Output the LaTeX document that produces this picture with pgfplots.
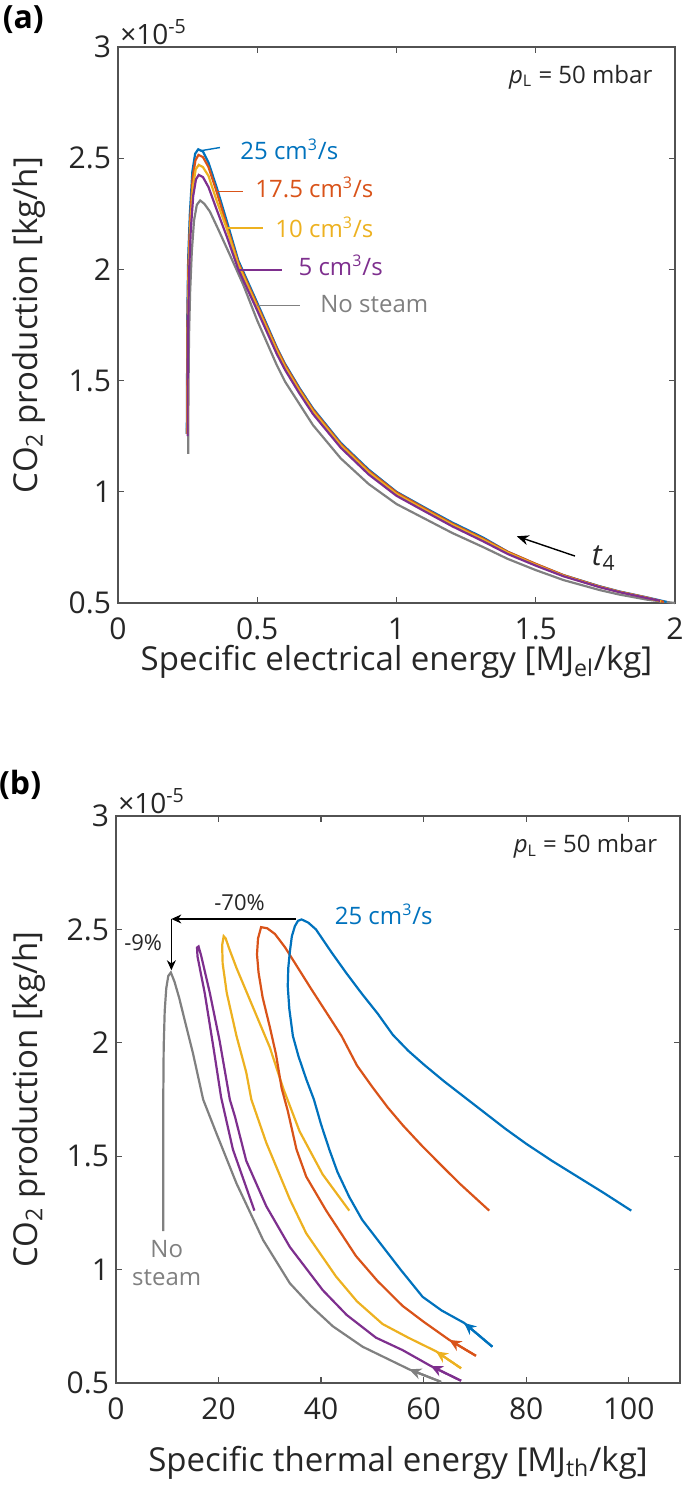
\documentclass[border=0pt]{standalone}
\usepackage{fontspec}
\setmainfont{Open Sans}
\usepackage{pgfplots}
\pgfplotsset{compat=1.18}
\usetikzlibrary{arrows.meta}
\definecolor{mblue}{rgb}{0,0.447,0.741}
\definecolor{morange}{rgb}{0.851,0.325,0.098}
\definecolor{myellow}{rgb}{0.929,0.694,0.125}
\definecolor{mpurple}{rgb}{0.494,0.184,0.556}
\definecolor{mgray}{rgb}{0.5,0.5,0.5}
\definecolor{axc}{rgb}{0.15,0.15,0.15}
\pgfplotsset{myax/.style={
  scale only axis, anchor=south west, clip=false,
  axis line style={axc!80, line width=0.6pt},
  tick style={axc!80, line width=0.6pt},
  tick align=inside, major tick length=3pt,
  every tick label/.append style={font=\fontsize{15}{17}\selectfont, text=axc},
  xticklabel style={yshift=-4pt},
  label style={font=\fontsize{16.5}{19}\selectfont, text=axc},
  /pgf/number format/assume math mode=true,
  scaled y ticks=false, scaled x ticks=false,
  ymin=0.5, ymax=3, ytick={0.5,1,1.5,2,2.5,3},
  ylabel={CO\textsubscript{2} production [kg/h]},
  every axis plot/.append style={line width=1.1pt},
}}
\begin{document}
\begin{tikzpicture}
\useasboundingbox (0,0) rectangle (342.5pt,-749pt);
% ---------------- (a) ----------------
\begin{axis}[myax, at={(59pt,-301.5pt)}, width=278.5pt, height=278pt,
  xmin=0, xmax=2, xtick={0,0.5,1,1.5,2},
  xlabel={Specific electrical energy [MJ\textsubscript{el}/kg]},
  xlabel style={at={(axis description cs:0.5,-0.106)}, anchor=center},
  ylabel style={at={(axis description cs:-0.16,0.5)}, anchor=center}]
\addplot[mgray] coordinates {(2.0,0.50)(1.9,0.515)(1.8,0.538)(1.73,0.558)(1.6,0.603)(1.5,0.648)(1.4,0.698)(1.31,0.752)(1.2,0.815)(1.1,0.88)(1.0,0.945)(0.9,1.035)(0.8,1.15)(0.7,1.30)(0.6,1.495)(0.57,1.57)(0.5,1.77)(0.45,1.93)(0.4,2.07)(0.36,2.18)(0.33,2.26)(0.31,2.295)(0.295,2.31)(0.283,2.29)(0.273,2.22)(0.265,2.08)(0.259,1.9)(0.255,1.7)(0.253,1.45)(0.252,1.17)};
\addplot[mblue] coordinates {(1.97,0.505)(1.9,0.525)(1.8,0.552)(1.73,0.575)(1.6,0.625)(1.5,0.675)(1.4,0.73)(1.31,0.795)(1.2,0.862)(1.1,0.93)(1.0,1.00)(0.9,1.10)(0.8,1.22)(0.7,1.375)(0.65,1.47)(0.6,1.575)(0.57,1.65)(0.5,1.85)(0.432,2.04)(0.39,2.22)(0.354,2.37)(0.325,2.48)(0.305,2.53)(0.288,2.54)(0.277,2.52)(0.267,2.44)(0.258,2.25)(0.252,2.05)(0.249,1.8)(0.248,1.5)(0.247,1.26)};
\addplot[morange] coordinates {(1.96,0.505)(1.9,0.524)(1.8,0.551)(1.73,0.574)(1.6,0.625)(1.5,0.676)(1.4,0.73)(1.31,0.79)(1.2,0.857)(1.1,0.926)(1.0,0.997)(0.9,1.095)(0.8,1.215)(0.7,1.37)(0.65,1.465)(0.6,1.57)(0.57,1.645)(0.5,1.84)(0.432,2.03)(0.39,2.2)(0.354,2.35)(0.325,2.46)(0.305,2.505)(0.289,2.515)(0.278,2.49)(0.268,2.41)(0.259,2.22)(0.253,2.03)(0.25,1.8)(0.249,1.5)(0.248,1.26)};
\addplot[myellow] coordinates {(1.95,0.507)(1.9,0.523)(1.8,0.55)(1.73,0.572)(1.6,0.622)(1.5,0.672)(1.4,0.726)(1.31,0.785)(1.2,0.852)(1.1,0.92)(1.0,0.99)(0.9,1.088)(0.8,1.208)(0.7,1.362)(0.65,1.457)(0.6,1.56)(0.57,1.635)(0.5,1.83)(0.432,2.02)(0.39,2.185)(0.354,2.31)(0.325,2.42)(0.305,2.46)(0.29,2.47)(0.279,2.45)(0.269,2.37)(0.26,2.2)(0.254,2.0)(0.251,1.8)(0.25,1.5)(0.249,1.26)};
\addplot[mpurple] coordinates {(1.946,0.51)(1.9,0.522)(1.8,0.549)(1.73,0.571)(1.6,0.62)(1.5,0.668)(1.4,0.72)(1.31,0.778)(1.2,0.845)(1.1,0.913)(1.0,0.982)(0.9,1.078)(0.8,1.198)(0.7,1.35)(0.65,1.445)(0.6,1.548)(0.57,1.62)(0.5,1.815)(0.432,2.0)(0.39,2.15)(0.354,2.27)(0.325,2.37)(0.305,2.415)(0.29,2.425)(0.28,2.405)(0.27,2.33)(0.261,2.17)(0.255,1.98)(0.252,1.75)(0.25,1.5)(0.25,1.25)};
% leader lines
\addplot[mblue, line width=0.7pt] coordinates {(0.294,2.533)(0.366,2.548)};
\addplot[morange, line width=0.7pt] coordinates {(0.354,2.35)(0.45,2.35)};
\addplot[myellow, line width=0.7pt] coordinates {(0.39,2.186)(0.522,2.186)};
\addplot[mpurple, line width=0.7pt] coordinates {(0.432,1.998)(0.588,1.998)};
\addplot[mgray, line width=0.7pt] coordinates {(0.498,1.838)(0.653,1.838)};
\addplot[black, line width=0.7pt, -{Stealth[length=6pt,width=5pt]}] coordinates {(1.641,0.711)(1.432,0.80)};
\begin{scope}[font=\fontsize{12}{14}\selectfont]
\node[anchor=west, inner sep=0, text=mblue] at (axis cs:0.438,2.54) {25 cm\textsuperscript{3}/s};
\node[anchor=west, inner sep=0, text=morange] at (axis cs:0.492,2.37) {17.5 cm\textsuperscript{3}/s};
\node[anchor=west, inner sep=0, text=myellow] at (axis cs:0.564,2.19) {10 cm\textsuperscript{3}/s};
\node[anchor=west, inner sep=0, text=mpurple] at (axis cs:0.647,2.017) {5 cm\textsuperscript{3}/s};
\node[anchor=west, inner sep=0, text=mgray] at (axis cs:0.725,1.845) {No steam};
\node[anchor=east, inner sep=0, text=axc] at (rel axis cs:0.96,0.946) {\textit{p}\textsubscript{L} = 50 mbar};
\end{scope}
\node[anchor=west, inner sep=0, text=axc, font=\fontsize{15}{17}\selectfont] at (axis cs:1.70,0.70) {\textit{t}\textsubscript{4}};
\node[anchor=south west, inner sep=1pt, text=axc, font=\fontsize{14}{16}\selectfont] at (rel axis cs:0,1) {×10\textsuperscript{-5}};
\node[inner sep=0, font=\fontsize{16}{18}\selectfont\bfseries] at (rel axis cs:-0.17,1.05) {(a)};
\end{axis}
% ---------------- (b) ----------------
\begin{axis}[myax, at={(58pt,-691.5pt)}, width=282pt, height=283.5pt,
  xmin=0, xmax=110, xtick={0,20,40,60,80,100},
  xlabel={Specific thermal energy [MJ\textsubscript{th}/kg]},
  xlabel style={at={(axis description cs:0.5,-0.14)}, anchor=center},
  ylabel style={at={(axis description cs:-0.155,0.5)}, anchor=center}]
\addplot[mgray] coordinates {(63.4,0.505)(57.2,0.56)(48.1,0.66)(42.3,0.75)(38,0.84)(33.9,0.94)(28.7,1.13)(23.5,1.38)(19.6,1.60)(17.0,1.75)(15.0,1.955)(13.4,2.10)(12.3,2.20)(11.4,2.27)(10.7,2.31)(10.2,2.295)(9.8,2.24)(9.5,2.14)(9.3,1.98)(9.2,1.7)(9.2,1.17)};
\addplot[mpurple] coordinates {(67.3,0.51)(61.4,0.575)(55.9,0.645)(50.7,0.70)(45,0.80)(40.3,0.91)(33.9,1.10)(29.3,1.28)(25.4,1.48)(23.2,1.675)(22.2,1.75)(20.2,2.01)(18.3,2.22)(16.6,2.385)(16.1,2.425)(15.8,2.42)(15.9,2.38)(17.3,2.22)(19.0,1.98)(20.5,1.76)(22.8,1.53)(27.0,1.26)};
\addplot[myellow] coordinates {(67.3,0.565)(62.4,0.64)(57,0.70)(52.0,0.76)(47,0.86)(42.9,0.97)(37.1,1.16)(33.9,1.31)(29.3,1.56)(26.4,1.75)(25.4,1.87)(23.5,2.03)(21.6,2.22)(20.8,2.35)(20.7,2.43)(21.0,2.47)(21.4,2.46)(22.0,2.42)(23.5,2.33)(26.1,2.19)(30.0,1.98)(32.6,1.80)(35.8,1.61)(40.3,1.42)(45.5,1.26)};
\addplot[morange] coordinates {(70.2,0.62)(65.0,0.69)(60,0.77)(55.9,0.84)(51,0.95)(46.8,1.06)(41.0,1.26)(37.1,1.41)(35.2,1.53)(33.5,1.70)(32.3,1.80)(31.2,1.95)(30,2.07)(28.6,2.20)(27.8,2.31)(27.5,2.39)(27.7,2.46)(28.3,2.51)(29.5,2.505)(31,2.48)(33,2.42)(35.5,2.33)(38,2.24)(41,2.135)(44,2.03)(47,1.90)(50,1.805)(53,1.715)(56,1.635)(59.5,1.55)(63,1.47)(67,1.38)(72.8,1.26)};
\addplot[mblue] coordinates {(73.4,0.66)(67.9,0.765)(63.5,0.82)(59.8,0.88)(55.5,1.0)(51.4,1.12)(48,1.22)(45.5,1.32)(43.2,1.43)(41.6,1.53)(40.0,1.64)(38.6,1.75)(37.1,1.84)(35.6,1.94)(34.5,2.03)(33.8,2.15)(33.5,2.25)(33.6,2.33)(33.9,2.40)(34.3,2.47)(34.9,2.515)(35.5,2.538)(36.2,2.544)(37.5,2.53)(39,2.50)(42,2.40)(45,2.305)(48,2.215)(51,2.13)(54,2.035)(57,1.965)(60,1.905)(64,1.83)(68,1.76)(72,1.69)(76,1.62)(80,1.555)(85,1.48)(90,1.41)(95,1.34)(100.5,1.26)};
% direction arrows
\addplot[mgray, -{Stealth[length=6pt,width=5.5pt]}] coordinates {(63.4,0.505)(57.2,0.56)};
\addplot[mpurple, -{Stealth[length=6pt,width=5.5pt]}] coordinates {(67.3,0.51)(61.4,0.575)};
\addplot[myellow, -{Stealth[length=6pt,width=5.5pt]}] coordinates {(67.3,0.565)(62.4,0.64)};
\addplot[morange, -{Stealth[length=6pt,width=5.5pt]}] coordinates {(70.2,0.62)(65.0,0.69)};
\addplot[mblue, -{Stealth[length=6pt,width=5.5pt]}] coordinates {(73.4,0.66)(67.9,0.765)};
% reduction arrows
\addplot[black, line width=0.6pt, -{Stealth[length=5pt,width=4.5pt]}] coordinates {(35.2,2.546)(10.8,2.546)};
\addplot[black, line width=0.6pt, -{Stealth[length=5pt,width=4.5pt]}] coordinates {(10.8,2.546)(10.8,2.32)};
\node[inner sep=0, text=axc, font=\fontsize{11}{13}\selectfont] at (axis cs:24.1,2.62) {-70\%};
\node[inner sep=0, text=axc, font=\fontsize{11}{13}\selectfont] at (axis cs:5.3,2.44) {-9\%};
\begin{scope}[font=\fontsize{12}{14}\selectfont]
\node[anchor=west, inner sep=0, text=mblue] at (axis cs:42.6,2.565) {25 cm\textsuperscript{3}/s};
\node[align=center, inner sep=0, text=mgray] at (axis cs:9.9,1.03) {No\\steam};
\node[anchor=east, inner sep=0, text=axc] at (rel axis cs:0.96,0.946) {\textit{p}\textsubscript{L} = 50 mbar};
\end{scope}
\node[anchor=south west, inner sep=1pt, text=axc, font=\fontsize{14}{16}\selectfont] at (rel axis cs:0,1) {×10\textsuperscript{-5}};
\node[inner sep=0, font=\fontsize{16}{18}\selectfont\bfseries] at (rel axis cs:-0.17,1.055) {(b)};
\end{axis}
\end{tikzpicture}
\end{document}
